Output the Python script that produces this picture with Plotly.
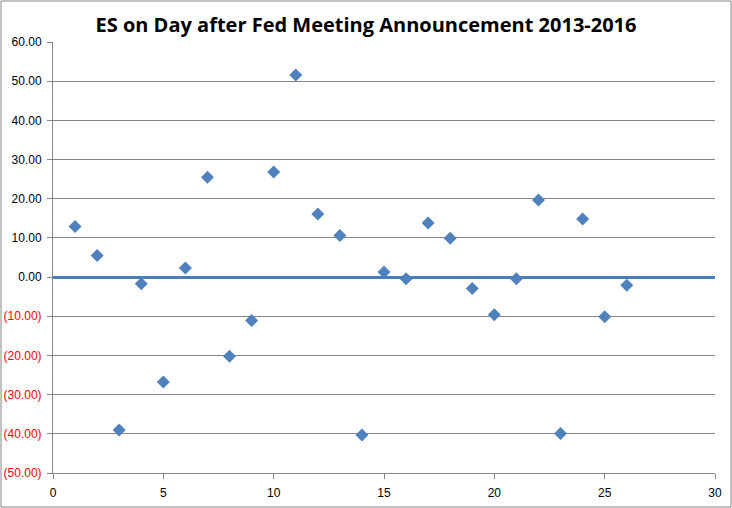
import plotly.graph_objects as go

# Meeting number and ES move on the day after the announcement
meeting = list(range(1, 27))
es_change = [12.9, 5.5, -39.0, -1.7, -26.8, 2.3, 25.5, -20.2, -11.1, 26.8,
             51.6, 16.1, 10.6, -40.3, 1.3, -0.4, 13.8, 9.9, -2.9, -9.6,
             -0.4, 19.7, -39.9, 14.8, -10.1, -2.1]

y_ticks = [60, 50, 40, 30, 20, 10, 0, -10, -20, -30, -40, -50]
x_ticks = [0, 5, 10, 15, 20, 25, 30]


def fmt(v):
    if v < 0:
        return '<span style="color:#ff0000">(%.2f)</span>' % abs(v)
    return "%.2f" % v


fig = go.Figure()

fig.add_trace(go.Scatter(
    x=meeting, y=es_change, mode="markers",
    marker=dict(symbol="diamond", size=10, color="#4f81bd"),
    showlegend=False))

fig.update_layout(
    title=dict(text="<b>ES on Day after Fed Meeting Announcement 2013-2016</b>",
               x=0.5, xanchor="center", y=0.951, yanchor="middle",
               font=dict(family="Open Sans", size=20, color="#000000")),
    width=732, height=508,
    margin=dict(l=53, r=17, t=42, b=35),
    paper_bgcolor="white", plot_bgcolor="white",
    font=dict(family="Liberation Sans", size=12, color="#000000"),
)

fig.update_xaxes(range=[0, 30], tickvals=x_ticks, showgrid=False,
                 showline=True, linecolor="#868686", linewidth=1,
                 ticks="outside", ticklen=5, tickcolor="#868686",
                 ticklabelstandoff=4, automargin=False,
                 zeroline=False)
fig.update_yaxes(range=[-50, 60], tickvals=y_ticks,
                 ticktext=[fmt(v) for v in y_ticks],
                 showgrid=True, gridcolor="#868686", gridwidth=1,
                 showline=True, linecolor="#868686", linewidth=1,
                 ticks="outside", ticklen=5, tickcolor="#868686",
                 ticklabelstandoff=3, automargin=False,
                 zeroline=True, zerolinecolor="#4a7ebb", zerolinewidth=3)

# chart border
fig.add_shape(type="rect", xref="paper", yref="paper",
              x0=-52 / 662, x1=1 + 16 / 662, y0=-34 / 431, y1=1 + 41 / 431,
              line=dict(color="#868686", width=1), layer="below")

fig.write_html("out.html", config={"displayModeBar": False},
               post_script="document.body.style.margin='0';")
